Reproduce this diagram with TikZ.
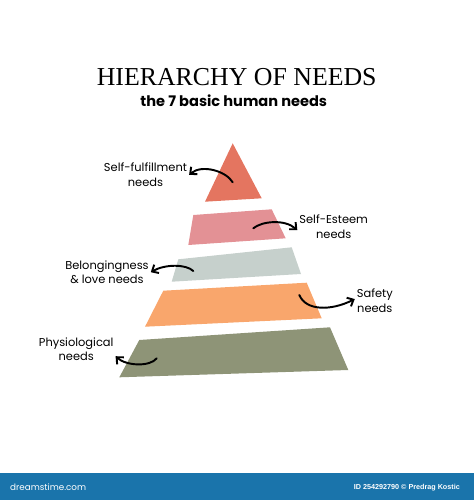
\documentclass[tikz,border=0pt]{standalone}
\usepackage{fontspec}
\setmainfont{Liberation Serif}
\newfontfamily\handfont{Poppins}
\newfontfamily\bannerfont{Liberation Sans}
\usetikzlibrary{arrows.meta,positioning}
\definecolor{peakRed}{HTML}{E47560}
\definecolor{esteemPink}{HTML}{E39195}
\definecolor{loveGray}{HTML}{C6D0CC}
\definecolor{safetyOrange}{HTML}{F9A66C}
\definecolor{bodyOlive}{HTML}{8E9477}
\definecolor{bannerBlue}{HTML}{1A74AB}
\tikzstyle{needText}=[font=\handfont\fontsize{6.5}{8.5}\selectfont, align=center, inner sep=1pt]
\tikzstyle{line}=[draw, line width=1.1pt, line cap=round, -{Straight Barb[length=3pt,width=5.5pt]}]

\begin{document}
\begin{tikzpicture}[x=0.02cm,y=-0.02cm]
    \useasboundingbox (0,0) rectangle (474,500);

    \node (title) at (236.7,76.7) {\fontsize{14.7}{17}\selectfont HIERARCHY OF NEEDS};
    \node (subtitle) at (233.8,101) {\handfont\bfseries\fontsize{8.3}{10}\selectfont the 7 basic human needs};

    % pyramid layers
    \fill[peakRed] (232.7,143.3) -- (261.7,198.3) -- (205,201.7) -- cycle;
    \fill[esteemPink] (193.3,215) -- (271.7,209.3) -- (285.7,238.3) -- (188.3,245) -- cycle;
    \fill[loveGray] (178.3,259.3) -- (291.7,247.3) -- (301,274) -- (171.7,281.7) -- cycle;
    \fill[safetyOrange] (163.3,290.7) -- (306.7,282.7) -- (321.7,318.3) -- (145,326.7) -- cycle;
    \fill[bodyOlive] (139.3,340) -- (330,327.3) -- (348.3,370) -- (119.3,377.3) -- cycle;

    \coordinate (fulfilStart) at (232.7,182.3);
    \coordinate (esteemStart) at (253.3,228.3);
    \coordinate (loveStart) at (193.3,271);
    \coordinate (safetyStart) at (299.3,295);
    \coordinate (physioStart) at (156.7,358.3);

    \node[needText] (fulfil) at (145.5,174.8) {Self-fulfillment\\needs};
    \node[needText] (esteem) at (333.7,226.7) {Self-Esteem\\needs};
    \node[needText] (love) at (107,272.2) {Belongingness\\\& love needs};
    \node[needText] (safety) at (374.8,300.8) {Safety\\needs};
    \node[needText] (physio) at (76.2,349.2) {Physiological\\needs};

    \draw[line] (fulfilStart) .. controls (226,171) and (202,164) .. (fulfil.east);
    \draw[line] (esteemStart) .. controls (262,221) and (285,219) .. ([yshift=-2pt]esteem.west);
    \draw[line] (loveStart) .. controls (186,264) and (165,264) .. (love.east);
    \draw[line] (safetyStart) .. controls (306,311) and (331,311) .. ([yshift=1pt]safety.west);
    \draw[line] (physioStart) .. controls (150,367) and (126,366) .. ([yshift=-4pt]physio.east);

    % banner
    \fill[bannerBlue] (0,472.7) rectangle (474,500);
    \node[anchor=west, text=white, font=\handfont\fontsize{5}{6}\selectfont] (site) at (4,487.5) {dreamstime.com};
    \node[anchor=east, text=white, font=\bannerfont\bfseries\fontsize{4.1}{5}\selectfont] (credit) at (466,487.5) {ID 254292790 \textcopyright{} Predrag Kostic};
\end{tikzpicture}
\end{document}
